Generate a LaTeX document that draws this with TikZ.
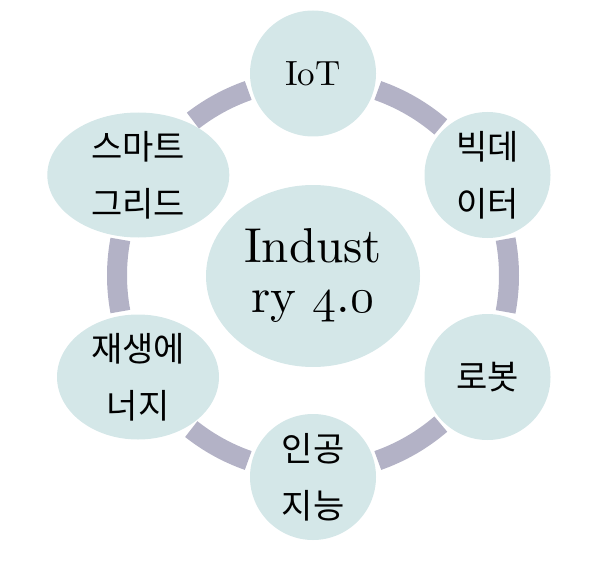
\RequirePackage{fix-cm}
\documentclass[tikz,border=0pt]{standalone}
\usepackage{fontspec}
\setmainfont{lmroman10-regular.otf}
\newfontfamily\krfont{Noto Sans CJK KR}
\usepackage{tikz}
\usetikzlibrary{positioning}
\definecolor{ringgray}{HTML}{B3B2C6}
\definecolor{bubblefill}{HTML}{D4E7E8}
\definecolor{ink}{HTML}{000000}
\newcommand{\osn}[1]{{\fontencoding{OML}\fontfamily{cmm}\fontseries{m}\fontshape{it}\selectfont #1}}
\tikzset{
  ringarc/.style={draw=ringgray, line width=20pt, line cap=butt},
  bubble/.style={fill=bubblefill},
  krlbl/.style={text=ink, font=\krfont\fontsize{34}{57}\selectfont, align=center, inner sep=0pt},
  enlbl/.style={text=ink, font=\fontsize{35}{40}\selectfont, inner sep=0pt},
  hublbl/.style={text=ink, font=\fontsize{49}{50}\selectfont, align=center, inner sep=0pt}
}

\begin{document}
\begin{tikzpicture}[x=1pt, y=1pt]
  \useasboundingbox (0,0) rectangle (612,574);
  \coordinate (ringc) at (313,298.5);
  \coordinate (iot) at (313,500.5);
  \coordinate (bigdata) at (487.5,399);
  \coordinate (robot) at (487.5,197);
  \coordinate (ai) at (313,97);
  \coordinate (energy) at (138,197);
  \coordinate (grid) at (138.3,399);
  \coordinate (hub) at (313,298);

  % ring pieces between the bubbles
  \foreach \a/\b in {70.7/49.3, 10.7/-10.7, -49.3/-70.7, -109.3/-128.4, -169.4/-190.6, 127.8/109.3}
    \draw[ringarc] (ringc) ++(\a:196pt) arc[start angle=\a, end angle=\b, radius=196pt];

  \fill[bubble] (hub) ellipse[x radius=107pt, y radius=91pt];
  \fill[bubble] (iot) circle[radius=63pt];
  \fill[bubble] (bigdata) circle[radius=63pt];
  \fill[bubble] (robot) circle[radius=63pt];
  \fill[bubble] (ai) circle[radius=63pt];
  \fill[bubble] (energy) ellipse[x radius=81pt, y radius=62.5pt];
  \fill[bubble] (grid) ellipse[x radius=91pt, y radius=62.5pt];

  \node[hublbl] (hubtxt) at (hub) {Indust\\ry \osn{4}.\osn{0}};
  \node[enlbl] (iottxt) at (iot) {IoT};
  \node[krlbl] (bigtxt) at (bigdata) {빅데\\이터};
  \node[krlbl] (robottxt) at (robot) {로봇};
  \node[krlbl] (aitxt) at (ai) {인공\\지능};
  \node[krlbl] (energytxt) at (energy) {재생에\\너지};
  \node[krlbl] (gridtxt) at (grid) {스마트\\그리드};
\end{tikzpicture}
\end{document}
